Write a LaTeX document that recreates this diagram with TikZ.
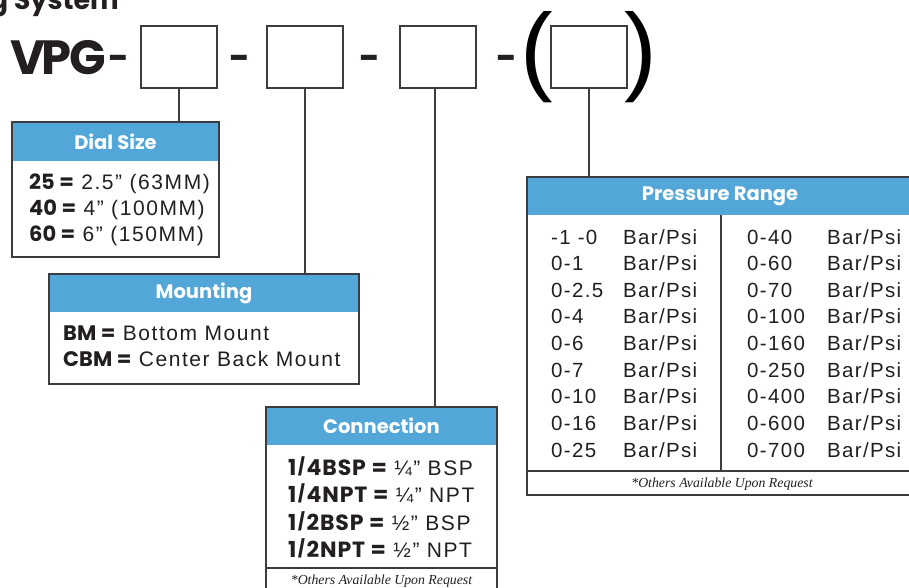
\documentclass[tikz,border=0pt]{standalone}
\usepackage{fontspec}
\setmainfont{Liberation Sans}[LetterSpace=7.5]
\newfontfamily\presfont{Liberation Sans}[LetterSpace=6.5]
\newfontfamily\pop{Poppins}
\newfontfamily\popw{Poppins}[LetterSpace=4]
\newfontfamily\serifit{Liberation Serif}
\newfontfamily\parenfont{Liberation Sans}
\definecolor{headblue}{RGB}{83,166,216}
\definecolor{ink}{RGB}{35,31,32}
\definecolor{linec}{RGB}{60,60,60}
\newcommand{\myslash}{\kern1.5pt{\parenfont\fontsize{26}{26}\selectfont /}\kern1.5pt}
\newcommand{\cbold}[1]{{\popw\bfseries\fontsize{22}{22}\selectfont #1}}
\begin{document}
\begin{tikzpicture}[x=1pt,y=-1pt,
  keybox/.style={draw=linec, line width=1.3pt, minimum width=76pt, minimum height=62pt, inner sep=0pt},
  frame/.style={draw=linec, line width=1.3pt, inner sep=0pt},
  head/.style={fill=headblue, text=white, inner sep=0pt, font=\pop\bfseries\fontsize{19.5}{20}\selectfont},
  body/.style={anchor=base west, inner sep=0pt, text=ink, font=\fontsize{21}{22}\selectfont},
  pbody/.style={anchor=base west, inner sep=0pt, text=ink, font=\presfont\fontsize{20.5}{22}\selectfont},
  note/.style={anchor=base, inner sep=0pt, text=ink, font=\serifit\itshape\fontsize{13.8}{14}\selectfont},
  conn/.style={draw=linec, line width=1.2pt},
  dashmark/.style={inner sep=0pt, text=ink, font=\pop\bfseries\fontsize{36}{36}\selectfont},
  paren/.style={inner sep=0pt, text=black, font=\parenfont\fontsize{98}{98}\selectfont}
]
\clip (0,0) rectangle (909,587);
\fill[white] (0,0) rectangle (909,587);

% title (cut off)
\node[anchor=base east, inner sep=0pt, text=ink, font=\pop\bfseries\fontsize{27}{27}\selectfont] (title) at (119,9) {g System};

% code line
\node[anchor=base west, inner sep=0pt, text=ink, font=\pop\bfseries\fontsize{48}{48}\selectfont] (vpg) at (10,74) {V\kern-3.5pt P\kern-2.5pt G};
\node[dashmark] (d1) at (119,63) {-};
\node[keybox] (k1) at (179,57) {};
\node[dashmark] (d2) at (239.5,63) {-};
\node[keybox] (k2) at (305,57) {};
\node[dashmark] (d3) at (369.5,63) {-};
\node[keybox] (k3) at (438,57) {};
\node[dashmark] (d4) at (506.5,63) {-};
\node[paren] (pl) at (537,57) {(};
\node[keybox] (k4) at (589,57) {};
\node[paren] (pr) at (641,57) {)};

% Dial Size
\node[head, minimum width=207pt, minimum height=39pt] (dialh) at (115.5,141.5) {Dial Size};
\node[frame, minimum width=207pt, minimum height=135pt] (dial) at (115.5,189.5) {};
\node[body] (dl1) at (29,189) {{\pop\bfseries 25 =} 2.5” (63MM)};
\node[body] (dl2) at (29,215) {{\pop\bfseries 40 =} 4” (100MM)};
\node[body] (dl3) at (29,241) {{\pop\bfseries 60 =} 6” (150MM)};

% Mounting
\node[head, minimum width=310pt, minimum height=38pt] (mounth) at (204,293) {Mounting};
\node[frame, minimum width=310pt, minimum height=110pt] (mount) at (204,329) {};
\node[body] (ml1) at (63,340) {{\pop\bfseries BM =} Bottom Mount};
\node[body] (ml2) at (63,366) {{\pop\bfseries CBM =} Center Back Mount};

% Connection
\node[head, minimum width=231pt, minimum height=38pt] (connh) at (381.5,426) {Connection};
\node[frame, minimum width=231pt, minimum height=193pt] (conn) at (381.5,503.5) {};
\draw[draw=linec, line width=1.2pt] (conn.west |- 0,568) -- (conn.east |- 0,568);
\node[body] (cl1) at (288,475) {\cbold{1\myslash 4BSP =} ¼” BSP};
\node[body] (cl2) at (288,502.5) {\cbold{1\myslash 4NPT =} ¼” NPT};
\node[body] (cl3) at (288,530) {\cbold{1\myslash 2BSP =} ½” BSP};
\node[body] (cl4) at (288,557) {\cbold{1\myslash 2NPT =} ½” NPT};
\node[note] (cnote) at (381.5,584) {*Others Available Upon Request};

% Pressure Range
\node[head, minimum width=386pt, minimum height=38pt] (presh) at (720,196) {Pressure Range};
\node[frame, minimum width=386pt, minimum height=318pt] (pres) at (720,336) {};
\draw[draw=linec, line width=1.2pt] (pres.west |- 0,471) -- (pres.east |- 0,471);
\draw[draw=linec, line width=1.2pt] (721,215) -- (721,471);
\node[note] (pnote) at (722,487) {*Others Available Upon Request};
\foreach \a/\b [count=\i from 0] in {-1 -0/0-40, 0-1/0-60, 0-2.5/0-70, 0-4/0-100, 0-6/0-160, 0-7/0-250, 0-10/0-400, 0-16/0-600, 0-25/0-700}{
  \pgfmathsetmacro{\yy}{244+26.66*\i}
  \node[pbody] (pa\i) at (551,\yy) {\a};
  \node[pbody] (pb\i) at (623,\yy) {Bar/Psi};
  \node[pbody] (pc\i) at (747,\yy) {\b};
  \node[pbody] (pd\i) at (827,\yy) {Bar/Psi};
}

% connectors
\draw[conn] (k1.south) -- (k1.south |- dial.north);
\draw[conn] (k2.south) -- (k2.south |- mount.north);
\draw[conn] (k3.south -| 435,0) -- (435,0 |- conn.north);
\draw[conn] (k4.south) -- (k4.south |- pres.north);
\end{tikzpicture}
\end{document}
